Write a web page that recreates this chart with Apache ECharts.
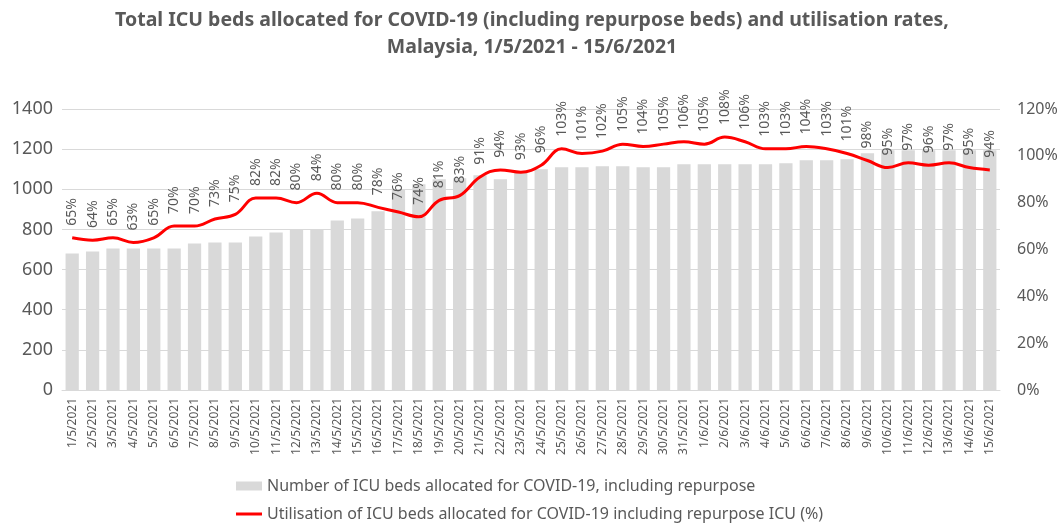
<!DOCTYPE html>
<html>
<head>
<meta charset="utf-8">
<title>ICU beds Malaysia</title>
<script src="https://cdn.jsdelivr.net/npm/echarts@6/dist/echarts.min.js"></script>
<style>
  html, body { margin: 0; padding: 0; background: #fff; }
  #chart { width: 1064px; height: 526px; }
</style>
</head>
<body>
<div id="chart"></div>
<script>
// dates 1/5/2021 - 15/6/2021
const dates = [
  `1/5/2021`, `2/5/2021`, `3/5/2021`, `4/5/2021`, `5/5/2021`, `6/5/2021`, `7/5/2021`, `8/5/2021`,
  `9/5/2021`, `10/5/2021`, `11/5/2021`, `12/5/2021`, `13/5/2021`, `14/5/2021`, `15/5/2021`, `16/5/2021`,
  `17/5/2021`, `18/5/2021`, `19/5/2021`, `20/5/2021`, `21/5/2021`, `22/5/2021`, `23/5/2021`, `24/5/2021`,
  `25/5/2021`, `26/5/2021`, `27/5/2021`, `28/5/2021`, `29/5/2021`, `30/5/2021`, `31/5/2021`,
  `1/6/2021`, `2/6/2021`, `3/6/2021`, `4/6/2021`, `5/6/2021`, `6/6/2021`, `7/6/2021`, `8/6/2021`,
  `9/6/2021`, `10/6/2021`, `11/6/2021`, `12/6/2021`, `13/6/2021`, `14/6/2021`, `15/6/2021`
];

// beds allocated
const beds = [
  680, 690, 705, 705, 705, 705, 730, 735, 735, 765, 785, 800, 800, 845, 855, 890,
  1000, 1025, 1050, 1055, 1070, 1050, 1090, 1100, 1110, 1110, 1115, 1115, 1110, 1110, 1125,
  1125, 1125, 1125, 1125, 1130, 1145, 1145, 1150, 1180, 1195, 1195, 1195, 1195, 1195, 1195
];

// utilisation %
const utilisation = [
  65, 64, 65, 63, 65, 70, 70, 73, 75, 82, 82, 80, 84, 80, 80, 78,
  76, 74, 81, 83, 91, 94, 93, 96, 103, 101, 102, 105, 104, 105, 106,
  105, 108, 106, 103, 103, 104, 103, 101, 98, 95, 97, 96, 97, 95, 94
];

const bedTicks = [0, 1400, 200];
const pctTicks = [0, 120, 20];

const barName = `Number of ICU beds allocated for COVID-19, including repurpose`;
const lineName = `Utilisation of ICU beds allocated for COVID-19 including repurpose ICU (%)`;

const grey = `#595959`;
const font = `"Noto Sans", sans-serif`;

const chart = echarts.init(document.getElementById(`chart`));
const option = {
  animation: false,
  textStyle: { fontFamily: font },
  title: {
    text: `Total ICU beds allocated for COVID-19 (including repurpose beds) and utilisation rates,\nMalaysia, 1/5/2021 - 15/6/2021`,
    left: `center`,
    top: 2,
    textStyle: { fontFamily: font, fontSize: 19.5, fontWeight: `bold`, color: grey, lineHeight: 27 }
  },
  legend: {
    orient: `vertical`,
    left: 236,
    top: 478,
    height: 60,
    padding: 0,
    itemGap: 12,
    itemWidth: 26,
    itemHeight: 9,
    textStyle: { fontFamily: font, fontSize: 16, color: grey },
    data: [
      { name: barName, icon: `rect` },
      { name: lineName, icon: `path://M0,0 L26,0 L26,3 L0,3 Z` }
    ]
  },
  grid: { left: 62, right: 64, top: 109, bottom: 136 },
  xAxis: {
    type: `category`,
    data: dates,
    axisTick: { show: false },
    axisLine: { lineStyle: { color: `#d9d9d9` } },
    axisLabel: { rotate: 90, interval: 0, color: grey, fontSize: 12, margin: 8 }
  },
  yAxis: [
    {
      type: `value`,
      min: bedTicks[0],
      max: bedTicks[1],
      interval: bedTicks[2],
      axisLabel: { color: grey, fontSize: 18, margin: 9, formatter: v => String(v) },
      splitLine: { lineStyle: { color: `#d9d9d9` } }
    },
    {
      type: `value`,
      min: pctTicks[0],
      max: pctTicks[1],
      interval: pctTicks[2],
      axisLabel: { color: grey, fontSize: 16, margin: 17, formatter: v => v + `%` },
      splitLine: { show: false }
    }
  ],
  series: [
    {
      name: barName,
      type: `bar`,
      data: beds,
      barCategoryGap: `35%`,
      itemStyle: { color: `#d9d9d9` }
    },
    {
      name: lineName,
      type: `line`,
      yAxisIndex: 1,
      data: utilisation,
      smooth: 0.4,
      symbol: `circle`,
      symbolSize: 0.1,
      showSymbol: true,
      z: 5,
      lineStyle: { color: `#ff0000`, width: 3 },
      itemStyle: { color: `#ff0000` },
      label: {
        show: true,
        position: `top`,
        rotate: 90,
        align: `left`,
        verticalAlign: `middle`,
        distance: 12,
        color: grey,
        fontSize: 14,
        formatter: `{c}%`
      }
    }
  ]
};
chart.setOption(option);
</script>
</body>
</html>
